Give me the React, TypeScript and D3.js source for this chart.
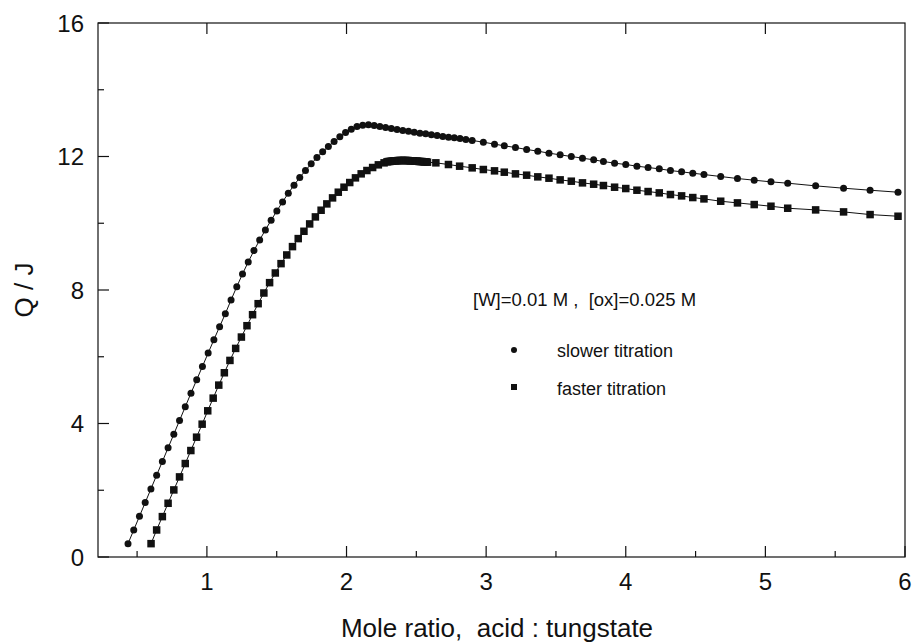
import React from "react";
import * as d3 from "d3";

// slower titration (circles)
const slowerX = [
  0.435, 0.476, 0.517, 0.558, 0.599, 0.64, 0.681, 0.722, 0.763, 0.804,
  0.845, 0.886, 0.927, 0.968, 1.009, 1.05, 1.091, 1.132, 1.173, 1.214,
  1.255, 1.296, 1.337, 1.378, 1.419, 1.46, 1.501, 1.542, 1.583, 1.624,
  1.665, 1.706, 1.747, 1.788, 1.829, 1.87, 1.911, 1.952, 1.993, 2.034,
  2.075, 2.116, 2.157, 2.198, 2.239, 2.28, 2.321, 2.362, 2.403, 2.444,
  2.485, 2.526, 2.567, 2.608, 2.649, 2.69, 2.731, 2.772, 2.813, 2.855,
  2.9, 2.98, 3.06, 3.13, 3.21, 3.29, 3.37, 3.45, 3.53, 3.61,
  3.69, 3.77, 3.84, 3.92, 4.0, 4.08, 4.16, 4.24, 4.32, 4.4,
  4.48, 4.56, 4.68, 4.8, 4.92, 5.04, 5.16, 5.36, 5.56, 5.75, 5.95,
];
const slowerQ = [
  0.4, 0.81, 1.22, 1.63, 2.04, 2.45, 2.86, 3.27, 3.68, 4.09,
  4.5, 4.91, 5.31, 5.71, 6.11, 6.51, 6.9, 7.29, 7.7, 8.1,
  8.48, 8.84, 9.18, 9.5, 9.8, 10.09, 10.37, 10.64, 10.9, 11.14,
  11.37, 11.58, 11.78, 11.97, 12.14, 12.3, 12.45, 12.59, 12.72, 12.82,
  12.9, 12.94, 12.95, 12.93, 12.9, 12.87, 12.84, 12.81, 12.78, 12.76,
  12.73, 12.7, 12.68, 12.65, 12.63, 12.6, 12.58, 12.56, 12.54, 12.51,
  12.48, 12.43, 12.37, 12.32, 12.27, 12.21, 12.16, 12.1, 12.05, 12.0,
  11.95, 11.9, 11.85, 11.8, 11.76, 11.71, 11.67, 11.63, 11.58, 11.54,
  11.5, 11.46, 11.4, 11.34, 11.29, 11.24, 11.2, 11.12, 11.05, 10.99, 10.93,
];

// faster titration (squares)
const fasterX = [
  0.6, 0.64, 0.681, 0.722, 0.763, 0.804, 0.845, 0.885, 0.926, 0.966,
  1.006, 1.045, 1.085, 1.125, 1.165, 1.206, 1.247, 1.287, 1.327, 1.367,
  1.408, 1.449, 1.49, 1.531, 1.572, 1.613, 1.654, 1.695, 1.736, 1.777,
  1.818, 1.859, 1.9, 1.941, 1.982, 2.023, 2.064, 2.105, 2.146, 2.187,
  2.228, 2.269,
  2.29, 2.3, 2.31, 2.32, 2.33, 2.34, 2.35, 2.36, 2.37, 2.38,
  2.39, 2.4, 2.41, 2.42, 2.43, 2.44, 2.45, 2.46, 2.47, 2.48,
  2.49, 2.5, 2.51, 2.52, 2.53, 2.54, 2.55, 2.56, 2.57, 2.58,
  2.64, 2.73, 2.81,
  2.9, 2.98, 3.06, 3.13, 3.21, 3.29, 3.37, 3.45, 3.53, 3.61,
  3.69, 3.77, 3.84, 3.92, 4.0, 4.08, 4.16, 4.24, 4.32, 4.4,
  4.48, 4.56, 4.68, 4.8, 4.92, 5.04, 5.16, 5.36, 5.56, 5.75, 5.95,
];
const fasterQ = [
  0.4, 0.81, 1.21, 1.61, 2.01, 2.4, 2.8, 3.19, 3.59, 3.98,
  4.38, 4.76, 5.15, 5.52, 5.89, 6.25, 6.59, 6.93, 7.26, 7.59,
  7.91, 8.22, 8.51, 8.79, 9.05, 9.3, 9.54, 9.76, 9.98, 10.19,
  10.39, 10.58, 10.76, 10.93, 11.08, 11.22, 11.36, 11.48, 11.58, 11.67,
  11.75, 11.81,
  11.84, 11.85, 11.85, 11.86, 11.86, 11.87, 11.87, 11.87, 11.88, 11.88,
  11.88, 11.88, 11.88, 11.88, 11.88, 11.88, 11.87, 11.87, 11.87, 11.87,
  11.86, 11.86, 11.86, 11.85, 11.85, 11.85, 11.84, 11.84, 11.84, 11.83,
  11.81, 11.76, 11.71,
  11.66, 11.61, 11.57, 11.53, 11.48, 11.44, 11.39, 11.35, 11.3, 11.26,
  11.21, 11.17, 11.13, 11.08, 11.04, 10.99, 10.95, 10.91, 10.86, 10.82,
  10.77, 10.73, 10.66, 10.61, 10.56, 10.51, 10.45, 10.4, 10.34, 10.26, 10.21,
];

const xMajor = [1, 2, 3, 4, 5, 6];
const xMinor = [0.5, 1.5, 2.5, 3.5, 4.5, 5.5];
const xTopTicks = [1, 2, 3, 4, 5];
const yMajor = [0, 4, 8, 12, 16];
const yMinor = [2, 6, 10, 14];

const FONT = "'Liberation Sans', Arial, Helvetica, sans-serif";

export default function App() {
  const width = 913;
  const height = 644;
  const left = 98, right = 905, top = 23, bottom = 557;

  const x = d3.scaleLinear().domain([0.22, 6]).range([left, right]);
  const y = d3.scaleLinear().domain([0, 16]).range([bottom, top]);

  // line through the points, built from the index so both arrays stay separate
  const path = (xs: number[], qs: number[]) =>
    d3.line<number>()
      .x(i => x(xs[i]))
      .y(i => y(qs[i]))(d3.range(xs.length)) || "";

  const sq = 7.5;
  const ink = "#111";

  return (
    <svg
      width={width}
      height={height}
      style={{ position: "absolute", left: 0, top: 0, background: "#fff" }}
      fontFamily={FONT}
    >
      <rect x={0} y={0} width={width} height={height} fill="#fff" />

      {/* frame */}
      <rect x={left} y={top} width={right - left} height={bottom - top}
        fill="none" stroke={ink} strokeWidth={1.2} />

      {/* ticks, all pointing inward */}
      {xMajor.map(v => (
        <line key={"xb" + v} x1={x(v)} x2={x(v)} y1={bottom} y2={bottom - 11}
          stroke={ink} strokeWidth={1.2} />
      ))}
      {xMinor.map(v => (
        <line key={"xm" + v} x1={x(v)} x2={x(v)} y1={bottom} y2={bottom - 6}
          stroke={ink} strokeWidth={1.2} />
      ))}
      {xTopTicks.map(v => (
        <line key={"xt" + v} x1={x(v)} x2={x(v)} y1={top} y2={top + 11}
          stroke={ink} strokeWidth={1.2} />
      ))}
      {yMajor.map(v => (
        <line key={"yb" + v} x1={left} x2={left + 11} y1={y(v)} y2={y(v)}
          stroke={ink} strokeWidth={1.2} />
      ))}
      {yMinor.map(v => (
        <line key={"ym" + v} x1={left} x2={left + 6} y1={y(v)} y2={y(v)}
          stroke={ink} strokeWidth={1.2} />
      ))}

      {/* tick labels */}
      {xMajor.map(v => (
        <text key={"xl" + v} x={x(v)} y={bottom + 33} textAnchor="middle"
          fontSize={24} fill={ink}>{v}</text>
      ))}
      {yMajor.map(v => (
        <text key={"yl" + v} x={left - 14} y={y(v) + 8.5} textAnchor="end"
          fontSize={24} fill={ink}>{v}</text>
      ))}

      {/* axis titles */}
      <text x={497} y={637} textAnchor="middle" fontSize={26} fill={ink}
        style={{ whiteSpace: "pre" }}>{"Mole ratio,  acid : tungstate"}</text>
      <text transform="translate(33,290) rotate(-90)" textAnchor="middle"
        fontSize={26} fill={ink}>Q / J</text>

      {/* series lines */}
      <path d={path(slowerX, slowerQ)} fill="none" stroke={ink} strokeWidth={1} />
      <path d={path(fasterX, fasterQ)} fill="none" stroke={ink} strokeWidth={1} />

      {/* markers */}
      {slowerX.map((v, i) => (
        <circle key={"c" + i} cx={x(v)} cy={y(slowerQ[i])} r={3.5} fill={ink} />
      ))}
      {fasterX.map((v, i) => (
        <rect key={"s" + i} x={x(v) - sq / 2} y={y(fasterQ[i]) - sq / 2}
          width={sq} height={sq} fill={ink} />
      ))}

      {/* legend */}
      <text x={473} y={306} fontSize={18.5} fill={ink}
        style={{ whiteSpace: "pre" }}>{"[W]=0.01 M ,  [ox]=0.025 M"}</text>
      <circle cx={514} cy={350} r={3} fill={ink} />
      <text x={557} y={357} fontSize={18} fill={ink}>slower titration</text>
      <rect x={514 - 3} y={387 - 3} width={6} height={6} fill={ink} />
      <text x={557} y={395} fontSize={18} fill={ink}>faster titration</text>
    </svg>
  );
}
